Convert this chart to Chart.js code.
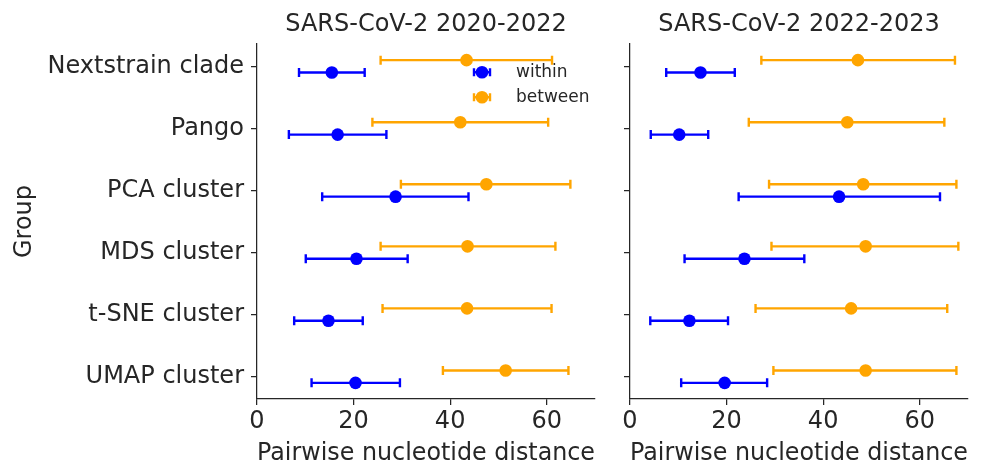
<!DOCTYPE html>
<html>
<head>
<meta charset="utf-8">
<script src="https://cdn.jsdelivr.net/npm/chart.js@4.4.1/dist/chart.umd.min.js"></script>
<style>
  body { margin: 0; background: #fff; }
  #wrap { position: relative; width: 989px; height: 468px; }
  #wrap canvas { position: absolute; left: 0; top: 0; }
</style>
</head>
<body>
<div id="wrap">
  <canvas id="chart_early" width="989" height="468"></canvas>
  <canvas id="chart_late" width="989" height="468"></canvas>
</div>
<script>
var groups = ['Nextstrain clade', 'Pango', 'PCA cluster', 'MDS cluster', 't-SNE cluster', 'UMAP cluster'];
var x_ticks = [0, 20, 40, 60];

// 2020-2022
var early_within_mean = [15.5, 16.7, 28.7, 20.6, 14.8, 20.4];
var early_within_low  = [8.7, 6.6, 13.5, 10.1, 7.7, 11.3];
var early_within_high = [22.3, 26.8, 43.8, 31.2, 21.9, 29.6];
var early_between_mean = [43.4, 42.1, 47.5, 43.6, 43.5, 51.5];
var early_between_low  = [25.6, 23.9, 29.8, 25.6, 26.0, 38.5];
var early_between_high = [61.1, 60.3, 64.9, 61.8, 61.0, 64.5];

// 2022-2023
var late_within_mean = [14.6, 10.2, 43.3, 23.7, 12.3, 19.6];
var late_within_low  = [7.5, 4.3, 22.5, 11.3, 4.2, 10.6];
var late_within_high = [21.7, 16.2, 64.2, 36.1, 20.3, 28.4];
var late_between_mean = [47.2, 45.0, 48.3, 48.8, 45.8, 48.8];
var late_between_low  = [27.2, 24.6, 28.8, 29.3, 26.0, 29.7];
var late_between_high = [67.3, 65.1, 67.6, 68.0, 65.7, 67.6];

var BLUE = '#0000ff';
var ORANGE = '#ffa500';
var INK = '#262626';
var FONT = "'DejaVu Sans', sans-serif";

var points = function(mean, shift) {
  return mean.map(function(v, i) { return {x: v, y: i + shift}; });
};

var make_dataset = function(label, color, mean, low, high, shift) {
  return {
    label: label,
    data: points(mean, shift),
    low: low,
    high: high,
    backgroundColor: color,
    borderColor: color,
    pointRadius: 6.3,
    pointHoverRadius: 6.3,
    borderWidth: 0
  };
};

// horizontal error bars with caps, drawn under the markers
var errorBars = {
  id: 'errorBars',
  beforeDatasetsDraw: function(chart) {
    var ctx = chart.ctx;
    var xs = chart.scales.x, ys = chart.scales.y;
    ctx.save();
    chart.data.datasets.forEach(function(ds) {
      ctx.strokeStyle = ds.borderColor;
      ctx.lineWidth = 2.4;
      ds.data.forEach(function(p, i) {
        var y = ys.getPixelForValue(p.y);
        var x0 = xs.getPixelForValue(ds.low[i]);
        var x1 = xs.getPixelForValue(ds.high[i]);
        ctx.beginPath();
        ctx.moveTo(x0, y); ctx.lineTo(x1, y);
        ctx.moveTo(x0, y - 4.5); ctx.lineTo(x0, y + 4.5);
        ctx.moveTo(x1, y - 4.5); ctx.lineTo(x1, y + 4.5);
        ctx.stroke();
      });
    });
    ctx.restore();
  }
};

// panel title centred over the plot area
var panelTitle = {
  id: 'panelTitle',
  afterDraw: function(chart, args, opts) {
    var ctx = chart.ctx, a = chart.chartArea;
    ctx.save();
    ctx.fillStyle = INK;
    ctx.font = '24px ' + FONT;
    ctx.textAlign = 'center';
    ctx.textBaseline = 'middle';
    ctx.fillText(opts.text, (a.left + a.right) / 2, 25);
    ctx.restore();
  }
};

// errorbar-style legend entries
var errorLegend = {
  id: 'errorLegend',
  afterDraw: function(chart, args, opts) {
    if (!opts.show) return;
    var ctx = chart.ctx;
    ctx.save();
    chart.data.datasets.forEach(function(ds, k) {
      var cx = 482, cy = 72.3 + k * 25;
      ctx.strokeStyle = ds.borderColor;
      ctx.fillStyle = ds.backgroundColor;
      ctx.lineWidth = 2.4;
      ctx.beginPath();
      ctx.moveTo(cx - 8, cy); ctx.lineTo(cx + 8, cy);
      ctx.moveTo(cx - 8, cy - 4); ctx.lineTo(cx - 8, cy + 4);
      ctx.moveTo(cx + 8, cy - 4); ctx.lineTo(cx + 8, cy + 4);
      ctx.stroke();
      ctx.beginPath();
      ctx.arc(cx, cy, 6.3, 0, Math.PI * 2);
      ctx.fill();
      ctx.fillStyle = INK;
      ctx.font = '17px ' + FONT;
      ctx.textAlign = 'left';
      ctx.textBaseline = 'middle';
      ctx.fillText(ds.label, 516, cy);
    });
    ctx.restore();
  }
};

var build_chart = function(canvas_id, title, within, between, opts) {
  return new Chart(document.getElementById(canvas_id).getContext('2d'), {
    type: 'scatter',
    data: {
      datasets: [
        make_dataset('within', BLUE, within[0], within[1], within[2], 0.1),
        make_dataset('between', ORANGE, between[0], between[1], between[2], -0.1)
      ]
    },
    options: {
      responsive: false,
      animation: false,
      devicePixelRatio: 1,
      layout: { padding: { left: 0, top: 44, right: opts.right, bottom: 0 } },
      plugins: {
        legend: { display: false },
        tooltip: { enabled: false },
        panelTitle: { text: title },
        errorLegend: { show: opts.legend }
      },
      scales: {
        x: {
          type: 'linear',
          min: 0,
          max: 70,
          afterBuildTicks: function(scale) {
            scale.ticks = x_ticks.map(function(v) { return {value: v}; });
          },
          afterFit: function(scale) { scale.height = 69; },
          border: { display: true, color: INK, width: 1.25 },
          grid: { drawOnChartArea: false, drawTicks: true, tickLength: 6, color: INK, lineWidth: 1.25 },
          ticks: { color: INK, font: { family: FONT, size: 24 }, padding: 2, maxRotation: 0 },
          title: {
            display: true,
            text: 'Pairwise nucleotide distance',
            color: INK,
            font: { family: FONT, size: 24 },
            padding: { top: 0, bottom: 0 }
          }
        },
        y: {
          type: 'linear',
          reverse: true,
          min: -0.36,
          max: 5.36,
          afterBuildTicks: function(scale) {
            scale.ticks = groups.map(function(g, i) { return {value: i}; });
          },
          afterFit: function(scale) { scale.width = opts.left; },
          border: { display: true, color: INK, width: 1.25 },
          grid: { drawOnChartArea: false, drawTicks: true, tickLength: 6, color: INK, lineWidth: 1.25 },
          ticks: {
            display: opts.labels,
            color: INK,
            font: { family: FONT, size: 24 },
            padding: 7,
            callback: function(v) { return groups[v]; }
          },
          title: {
            display: opts.labels,
            text: 'Group',
            color: INK,
            font: { family: FONT, size: 24 },
            padding: { top: 10, bottom: 0 }
          }
        }
      }
    },
    plugins: [errorBars, panelTitle, errorLegend]
  });
};

build_chart('chart_early', 'SARS-CoV-2 2020-2022',
  [early_within_mean, early_within_low, early_within_high],
  [early_between_mean, early_between_low, early_between_high],
  { left: 257, right: 394, labels: true, legend: true });

build_chart('chart_late', 'SARS-CoV-2 2022-2023',
  [late_within_mean, late_within_low, late_within_high],
  [late_between_mean, late_between_low, late_between_high],
  { left: 630, right: 21, labels: false, legend: false });
</script>
</body>
</html>
